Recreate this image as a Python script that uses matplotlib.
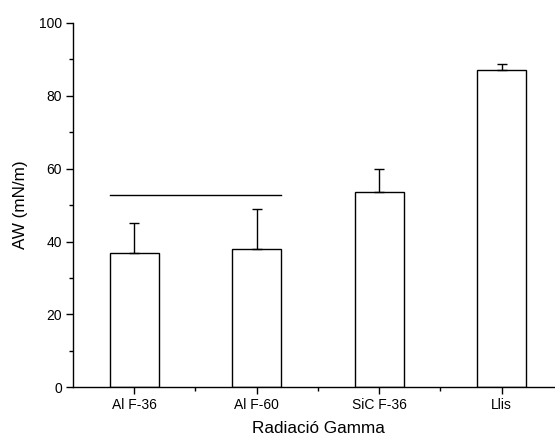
import matplotlib
matplotlib.use("Agg")
import matplotlib.pyplot as plt
from matplotlib.ticker import MultipleLocator, FixedLocator

plt.rcParams['font.family'] = ['Liberation Sans', 'DejaVu Sans']

categories = ["Al F-36", "Al F-60", "SiC F-36", "Llis"]
values = [36.8, 38.1, 53.7, 87.2]
errors = [8.2, 10.9, 6.3, 1.6]
bracket_y = 52.9
bracket_span = [0.8, 2.2]

fig = plt.figure(figsize=(5.55, 4.41), dpi=100)
ax = fig.add_axes([73/555, 1-387.3/441, (563-73)/555, (387.3-23)/441])
x = list(range(1, len(categories)+1))
ax.bar(x, values, width=0.4, color='white', edgecolor='black', linewidth=1.0, zorder=2)
ax.errorbar(x, values, yerr=[[0]*len(errors), errors], fmt='none', ecolor='black',
            elinewidth=1.0, capsize=3.5, capthick=1.0, zorder=3)
ax.plot(bracket_span, [bracket_y, bracket_y], color='black', lw=1.0)

ax.set_xlim(0.5, 4.5)
ax.set_ylim(0, 100)
ax.set_xticks(x)
ax.set_xticklabels(categories)
ax.xaxis.set_minor_locator(FixedLocator([1.5, 2.5, 3.5]))
ax.yaxis.set_major_locator(MultipleLocator(20))
ax.yaxis.set_minor_locator(MultipleLocator(10))
ax.spines['top'].set_visible(False)
ax.spines['right'].set_visible(False)
for s in ['left', 'bottom']:
    ax.spines[s].set_linewidth(1.0)
ax.tick_params(axis='both', which='major', direction='out', length=5, width=1.0, labelsize=10, pad=3)
ax.tick_params(axis='both', which='minor', direction='out', length=3, width=1.0)
ax.set_ylabel("AW (mN/m)", fontsize=12.3)
ax.set_xlabel("Radiació Gamma", fontsize=12.3)
ax.xaxis.set_label_coords((318-73)/490, -34/364.3)
ax.yaxis.set_label_coords(-45/490, 0.5)
fig.savefig("out.png", dpi=100)
